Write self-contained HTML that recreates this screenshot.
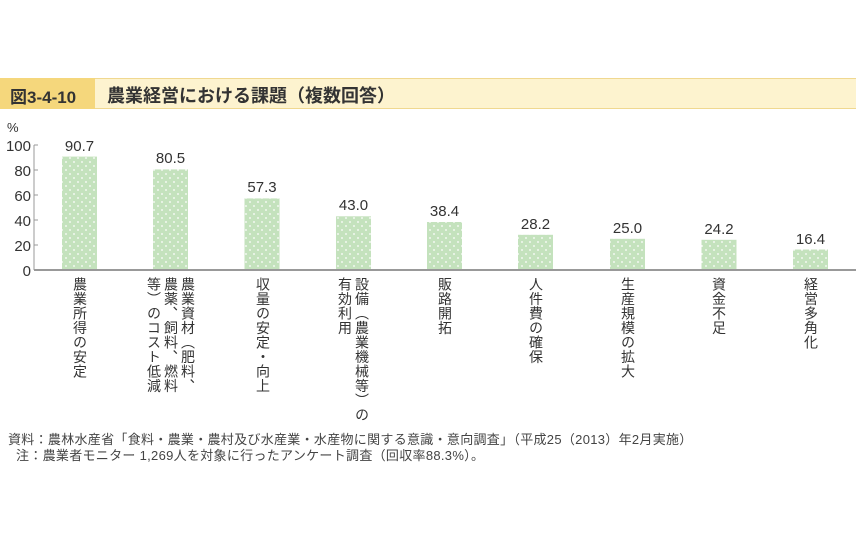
<!DOCTYPE html>
<html><head><meta charset="utf-8"><style>
body{margin:0;width:858px;height:537px;background:#fff;position:relative;overflow:hidden;font-family:"Liberation Sans","Noto Sans CJK JP",sans-serif;color:#333}
.vl{position:absolute;top:277px;writing-mode:vertical-rl;font-size:14px;line-height:17px;letter-spacing:0.5px;color:#333;white-space:nowrap}
.ft{position:absolute;font-size:13px;letter-spacing:0.3px;color:#444;white-space:nowrap}
</style></head><body>
<div style="position:absolute;left:0;top:78px;width:856px;height:29px;background:#fdf3cf;border-top:1px solid #f0d890;border-bottom:1px solid #f0d890"></div>
<div style="position:absolute;left:0;top:78px;width:95px;height:31px;background:#f5d77c"></div>
<div style="position:absolute;left:10px;top:83px;font-size:17px;font-weight:bold;color:#333">図3-4-10</div>
<div style="position:absolute;left:107px;top:82px;font-size:18px;font-weight:bold;color:#333">農業経営における課題（複数回答）</div>
<svg width="858" height="537" style="position:absolute;left:0;top:0">
<defs><pattern id="d" width="8" height="8" patternUnits="userSpaceOnUse"><rect width="8" height="8" fill="#c4e2bd"/><circle cx="2" cy="2" r="0.9" fill="#fff"/><circle cx="6" cy="6" r="0.9" fill="#fff"/></pattern></defs>
<g font-size="15" fill="#333" font-family="Liberation Sans,sans-serif">
<text x="7" y="132" font-size="13">%</text>
<g text-anchor="end"><text x="31" y="151">100</text><text x="31" y="176">80</text><text x="31" y="201">60</text><text x="31" y="226">40</text><text x="31" y="251">20</text><text x="31" y="276">0</text></g>
</g>
<g stroke="#999" stroke-width="1"><line x1="34" y1="145" x2="38" y2="145"/><line x1="34" y1="170" x2="38" y2="170"/><line x1="34" y1="195" x2="38" y2="195"/><line x1="34" y1="220" x2="38" y2="220"/><line x1="34" y1="245" x2="38" y2="245"/><line x1="34" y1="145" x2="34" y2="270"/></g>
<g fill="url(#d)">
<rect x="62" y="156.6" width="35" height="113.4"/>
<rect x="153" y="169.4" width="35" height="100.6"/>
<rect x="244.5" y="198.4" width="35" height="71.6"/>
<rect x="336" y="216.3" width="35" height="53.7"/>
<rect x="427" y="222" width="35" height="48"/>
<rect x="518" y="234.8" width="35" height="35.2"/>
<rect x="610" y="238.8" width="35" height="31.2"/>
<rect x="701.5" y="239.8" width="35" height="30.2"/>
<rect x="793" y="249.5" width="35" height="20.5"/>
</g>
<line x1="34" y1="270" x2="856" y2="270" stroke="#999" stroke-width="2"/>
<g font-size="15" fill="#333" text-anchor="middle" font-family="Liberation Sans,sans-serif">
<text x="79.5" y="151">90.7</text><text x="170.5" y="163">80.5</text><text x="262" y="192">57.3</text><text x="353.5" y="210">43.0</text><text x="444.5" y="216">38.4</text><text x="535.5" y="229">28.2</text><text x="627.5" y="233">25.0</text><text x="719" y="234">24.2</text><text x="810.5" y="244">16.4</text>
</g>
</svg>
<div class="vl" style="left:71px">農業所得の安定</div>
<div class="vl" style="left:145px">農業資材（肥料、<br>農薬、飼料、燃料<br>等）のコスト低減</div>
<div class="vl" style="left:254px">収量の安定・向上</div>
<div class="vl" style="left:336px">設備（農業機械等）の<br>有効利用</div>
<div class="vl" style="left:436px">販路開拓</div>
<div class="vl" style="left:527px">人件費の確保</div>
<div class="vl" style="left:619px">生産規模の拡大</div>
<div class="vl" style="left:710px">資金不足</div>
<div class="vl" style="left:802px">経営多角化</div>
<div class="ft" style="left:8px;top:429px">資料：農林水産省「食料・農業・農村及び水産業・水産物に関する意識・意向調査」（平成25（2013）年2月実施）</div>
<div class="ft" style="left:16px;top:445px">注：農業者モニター 1,269人を対象に行ったアンケート調査（回収率88.3%）。</div>
</body></html>
